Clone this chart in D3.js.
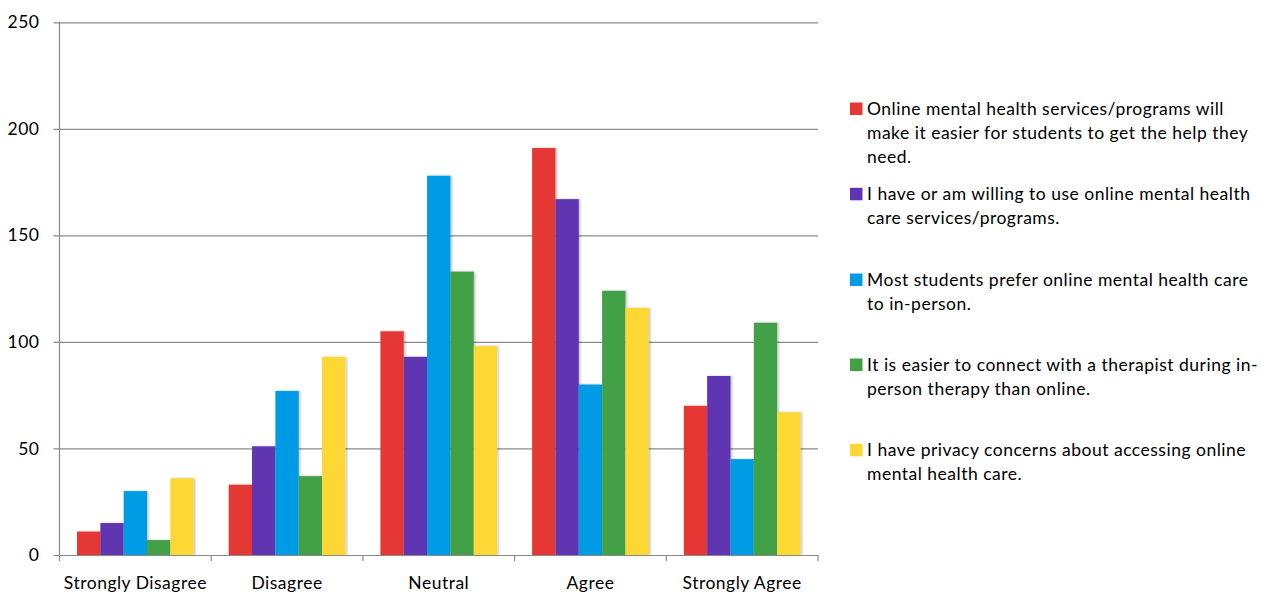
<!DOCTYPE html>
<html>
<head>
<meta charset="utf-8">
<script src="https://cdn.jsdelivr.net/npm/d3@7"></script>
<style>
  html, body { margin: 0; padding: 0; background: #fff; }
  svg { display: block; }
  text { font-family: Lato, "Open Sans", sans-serif; fill: #000; }
</style>
</head>
<body>
<svg id="chart" width="1267" height="592"></svg>
<script>
// Response categories (x axis)
const categories = ["Strongly Disagree", "Disagree", "Neutral", "Agree", "Strongly Agree"];

// Survey statements (series)
const seriesNames = [
  "Online mental health services/programs will make it easier for students to get the help they need.",
  "I have or am willing to use online mental health care services/programs.",
  "Most students prefer online mental health care to in-person.",
  "It is easier to connect with a therapist during in-person therapy than online.",
  "I have privacy concerns about accessing online mental health care."
];

// Legend lines as wrapped in the legend box
const legendLines = [
  ["Online mental health services/programs will", "make it easier for students to get the help they", "need."],
  ["I have or am willing to use online mental health", "care services/programs."],
  ["Most students prefer online mental health care", "to in-person."],
  ["It is easier to connect with a therapist during in-", "person therapy than online."],
  ["I have privacy concerns about accessing online", "mental health care."]
];

// Counts per statement, in category order
const easierHelp   = [11, 33, 105, 191, 70];
const willingToUse = [15, 51, 93, 167, 84];
const preferOnline = [30, 77, 178, 80, 45];
const easierInPerson = [7, 37, 133, 124, 109];
const privacyConcerns = [36, 93, 98, 116, 67];
const seriesValues = [easierHelp, willingToUse, preferOnline, easierInPerson, privacyConcerns];

const colors = ["#E53935", "#5E35B1", "#039BE5", "#43A047", "#FDD835"];
const yTicks = [0, 50, 100, 150, 200, 250];

const svg = d3.select("#chart");
const plot = { left: 59.5, right: 818, top: 22.3, bottom: 555 };
const fontSize = 17.5;
const spacing = "0.5px";

const x0 = d3.scaleBand().domain(categories).range([plot.left, plot.right]).padding(0);
const x1 = d3.scaleBand().domain(d3.range(seriesNames.length))
  .range([0, x0.bandwidth()]).paddingInner(0).paddingOuter(0.75);
const y = d3.scaleLinear().domain([0, 250]).range([plot.bottom, plot.top]);

// Soft shadow behind bars
const defs = svg.append("defs");
const f = defs.append("filter").attr("id", "shadow")
  .attr("x", "-20%").attr("y", "-5%").attr("width", "150%").attr("height", "110%");
f.append("feDropShadow").attr("dx", 1.5).attr("dy", 0).attr("stdDeviation", 1)
  .attr("flood-color", "#000").attr("flood-opacity", 0.25);

// Gridlines and y axis
const yAxis = d3.axisLeft(y).tickValues(yTicks).tickSize(-(plot.right - plot.left)).tickPadding(20);
const gy = svg.append("g").attr("transform", `translate(${plot.left},0)`).call(yAxis);
gy.select(".domain").remove();
gy.selectAll(".tick line").attr("stroke", "#8a8a8a").attr("stroke-width", 1.2).attr("x1", -6);
gy.selectAll(".tick text").attr("font-size", fontSize).attr("font-family", "Lato, sans-serif")
  .attr("letter-spacing", spacing).attr("fill", "#000");

svg.append("line").attr("x1", plot.left).attr("x2", plot.left)
  .attr("y1", plot.top).attr("y2", plot.bottom)
  .attr("stroke", "#8a8a8a").attr("stroke-width", 1.2);

// Bars
const groups = svg.append("g").selectAll("g").data(categories).join("g")
  .attr("transform", d => `translate(${x0(d)},0)`);
groups.selectAll("rect")
  .data((c, ci) => seriesValues.map((vals, si) => ({ si, v: vals[ci] })))
  .join("rect")
  .attr("x", d => x1(d.si))
  .attr("width", x1.bandwidth())
  .attr("y", d => y(d.v))
  .attr("height", d => y(0) - y(d.v))
  .attr("fill", d => colors[d.si])
  .attr("filter", "url(#shadow)");

// Category axis
const gx = svg.append("g").attr("transform", `translate(0,${plot.bottom})`)
  .call(d3.axisBottom(x0).tickSize(0).tickPadding(22));
gx.select(".domain").attr("stroke", "#8a8a8a").attr("stroke-width", 1.2);
gx.selectAll(".tick text").attr("font-size", fontSize).attr("font-family", "Lato, sans-serif")
  .attr("letter-spacing", spacing).attr("fill", "#000");
const boundaries = categories.map(c => x0(c)).concat([plot.right]);
gx.selectAll("line.sep").data(boundaries).join("line").attr("class", "sep")
  .attr("x1", d => d).attr("x2", d => d).attr("y1", 0).attr("y2", 6)
  .attr("stroke", "#8a8a8a").attr("stroke-width", 1.2);

// Legend
const legend = svg.append("g");
const entryTop = [108.5, 193.8, 279.5, 364.5, 449.8];
const lineH = 24.4;
seriesNames.forEach((name, i) => {
  const g = legend.append("g");
  g.append("rect").attr("x", 850).attr("y", entryTop[i] - 6).attr("width", 12.5).attr("height", 12.5)
    .attr("fill", colors[i]);
  const t = g.append("text").attr("x", 867).attr("y", entryTop[i]).attr("dy", "0.35em")
    .attr("font-size", fontSize).attr("letter-spacing", spacing);
  legendLines[i].forEach((ln, k) => {
    t.append("tspan").attr("x", 867).attr("y", entryTop[i] + k * lineH).attr("dy", "0.35em").text(ln);
  });
});
</script>
</body>
</html>
